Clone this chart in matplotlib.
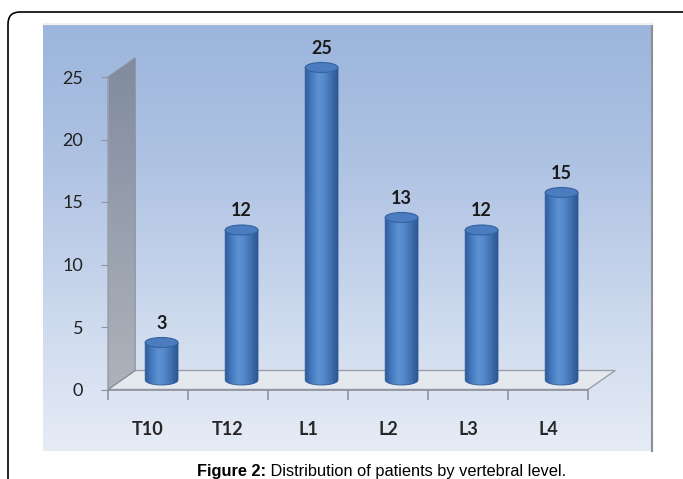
import numpy as np
import matplotlib
matplotlib.use("Agg")
import matplotlib.pyplot as plt
from matplotlib.colors import LinearSegmentedColormap
from matplotlib.patches import Polygon, Ellipse, PathPatch, FancyBboxPatch
from matplotlib.path import Path
from matplotlib.transforms import IdentityTransform

levels = ["T10", "T12", "L1", "L2", "L3", "L4"]
patients = [3, 12, 25, 13, 12, 15]
yticks = [0, 5, 10, 15, 20, 25]

# pseudo-3D box depth, in data units (x: categories, y: patients)
DX, DY = 0.34, 1.52
BAR_HW = 0.205     # half width of a cylinder
CAP_H = 0.8        # height of the top/bottom ellipses

W, H = 683, 479
fig = plt.figure(figsize=(W / 100, H / 100), dpi=100)

# frame around figure and caption
frame = FancyBboxPatch((8, -40), 700, H - 12 + 40,
                       boxstyle="round,pad=0,rounding_size=12",
                       transform=IdentityTransform(), facecolor="white",
                       edgecolor="black", linewidth=1.2, zorder=-1)
fig.add_artist(frame)

# chart panel: 43..652 px wide, 24..451 px from top
px0, px1, py0, py1 = 43, 652, 24, 451
ax = fig.add_axes([px0 / W, 1 - py1 / H, (px1 - px0) / W, (py1 - py0) / H])
x_of = lambda px: (px - 148) / 80.0
y_of = lambda py: (389.5 - py) / 12.5
xlim = (x_of(px0), x_of(px1))
ylim = (y_of(py1), y_of(py0))

# panel background gradient
bg_cmap = LinearSegmentedColormap.from_list(
    "bg", ["#e6ecf6", "#cbd8ed", "#afc3e3", "#9cb5dc"])
grad = np.linspace(0, 1, 256)[:, None]
ax.imshow(grad, cmap=bg_cmap, origin="lower", aspect="auto",
          extent=(*xlim, *ylim), zorder=0, interpolation="bicubic")

# left wall
x0 = -0.5
wall = Polygon([(x0, 0), (x0, 25), (x0 + DX, 25 + DY), (x0 + DX, DY)],
               closed=True, facecolor="none", edgecolor="#8a909c",
               linewidth=0.8, zorder=2)
ax.add_patch(wall)
wall_cmap = LinearSegmentedColormap.from_list("wall", ["#aeb2ba", "#98a0ae", "#808b9f"])
im = ax.imshow(grad, cmap=wall_cmap, origin="lower", aspect="auto",
               extent=(x0, x0 + DX, 0, 25 + DY), zorder=1)
im.set_clip_path(wall)

# floor
n = len(levels)
floor = Polygon([(x0, 0), (n - 0.5, 0), (n - 0.5 + DX, DY), (x0 + DX, DY)],
                closed=True, facecolor="#e4e8ef", edgecolor="#9a9fa8",
                linewidth=1.0, zorder=1)
ax.add_patch(floor)

# cylinders
body_cmap = LinearSegmentedColormap.from_list(
    "body", ["#305c9a", "#4679bf", "#5c91d2", "#5488ca", "#3d6fae", "#2c5692"])
hgrad = np.linspace(0, 1, 128)[None, :]
t = np.linspace(np.pi, 2 * np.pi, 60)
for i, v in enumerate(patients):
    cx = i + DX / 2
    base = DY / 2
    top = base + v
    verts = [(cx - BAR_HW, top)]
    verts += list(zip(cx + BAR_HW * np.cos(t), base + CAP_H / 2 * np.sin(t)))
    verts += [(cx + BAR_HW, top), (cx - BAR_HW, top)]
    clip = PathPatch(Path(verts, closed=True), facecolor="none",
                     edgecolor="#2e5a94", linewidth=0.6, zorder=4)
    ax.add_patch(clip)
    body = ax.imshow(hgrad, cmap=body_cmap, aspect="auto",
                     extent=(cx - BAR_HW, cx + BAR_HW, base - CAP_H / 2, top),
                     zorder=3, interpolation="bicubic")
    body.set_clip_path(clip)
    ax.add_patch(Ellipse((cx, top), 2 * BAR_HW, CAP_H, facecolor="#4a7cbf",
                         edgecolor="#33629f", linewidth=0.8, zorder=5))
    ax.annotate(str(v), (cx, top), xytext=(0, 19), textcoords="offset pixels",
                ha="center", va="center", fontsize=13, fontweight="bold",
                color="#1a1a1a", family="Lato", zorder=6)

ax.set_xlim(xlim)
ax.set_ylim(ylim)

# axes lines and ticks
ax.spines["top"].set_color("#f4f1ea")
ax.spines["top"].set_linewidth(1.5)
ax.spines["right"].set_color("#8c8f96")
ax.spines["right"].set_linewidth(1.5)
ax.spines["left"].set_position(("data", x0))
ax.spines["left"].set_bounds(0, 25)
ax.spines["left"].set_color("#9aa0aa")
ax.spines["bottom"].set_position(("data", 0))
ax.spines["bottom"].set_bounds(x0, n - 0.5)
ax.spines["bottom"].set_color("#8f949c")
ax.spines["bottom"].set_linewidth(1.2)

ax.set_yticks(yticks)
ax.set_yticklabels([str(y) for y in yticks], fontsize=13, color="#222222",
                   family="Lato")
ax.tick_params(axis="y", length=5, color="#8f949c", pad=13)

ax.set_xticks(range(n))
ax.set_xticklabels(levels, fontsize=13, fontweight="bold", color="#262626",
                   family="Lato")
ax.set_xticks(np.arange(n + 1) - 0.5, minor=True)
ax.tick_params(axis="x", which="major", length=0, pad=23)
ax.tick_params(axis="x", which="minor", length=7, color="#8f949c", width=1.2)

# caption
cap = fig.text(197 / W, 1 - 476 / H, "Figure 2:", fontsize=11.8, fontweight="bold",
               family="Liberation Sans", va="baseline", ha="left")
ax.annotate(" Distribution of patients by vertebral level.", xy=(1, 0),
            xycoords=cap, va="bottom", ha="left", fontsize=11.8,
            family="Liberation Sans", annotation_clip=False)

fig.savefig("out.png", dpi=100)
